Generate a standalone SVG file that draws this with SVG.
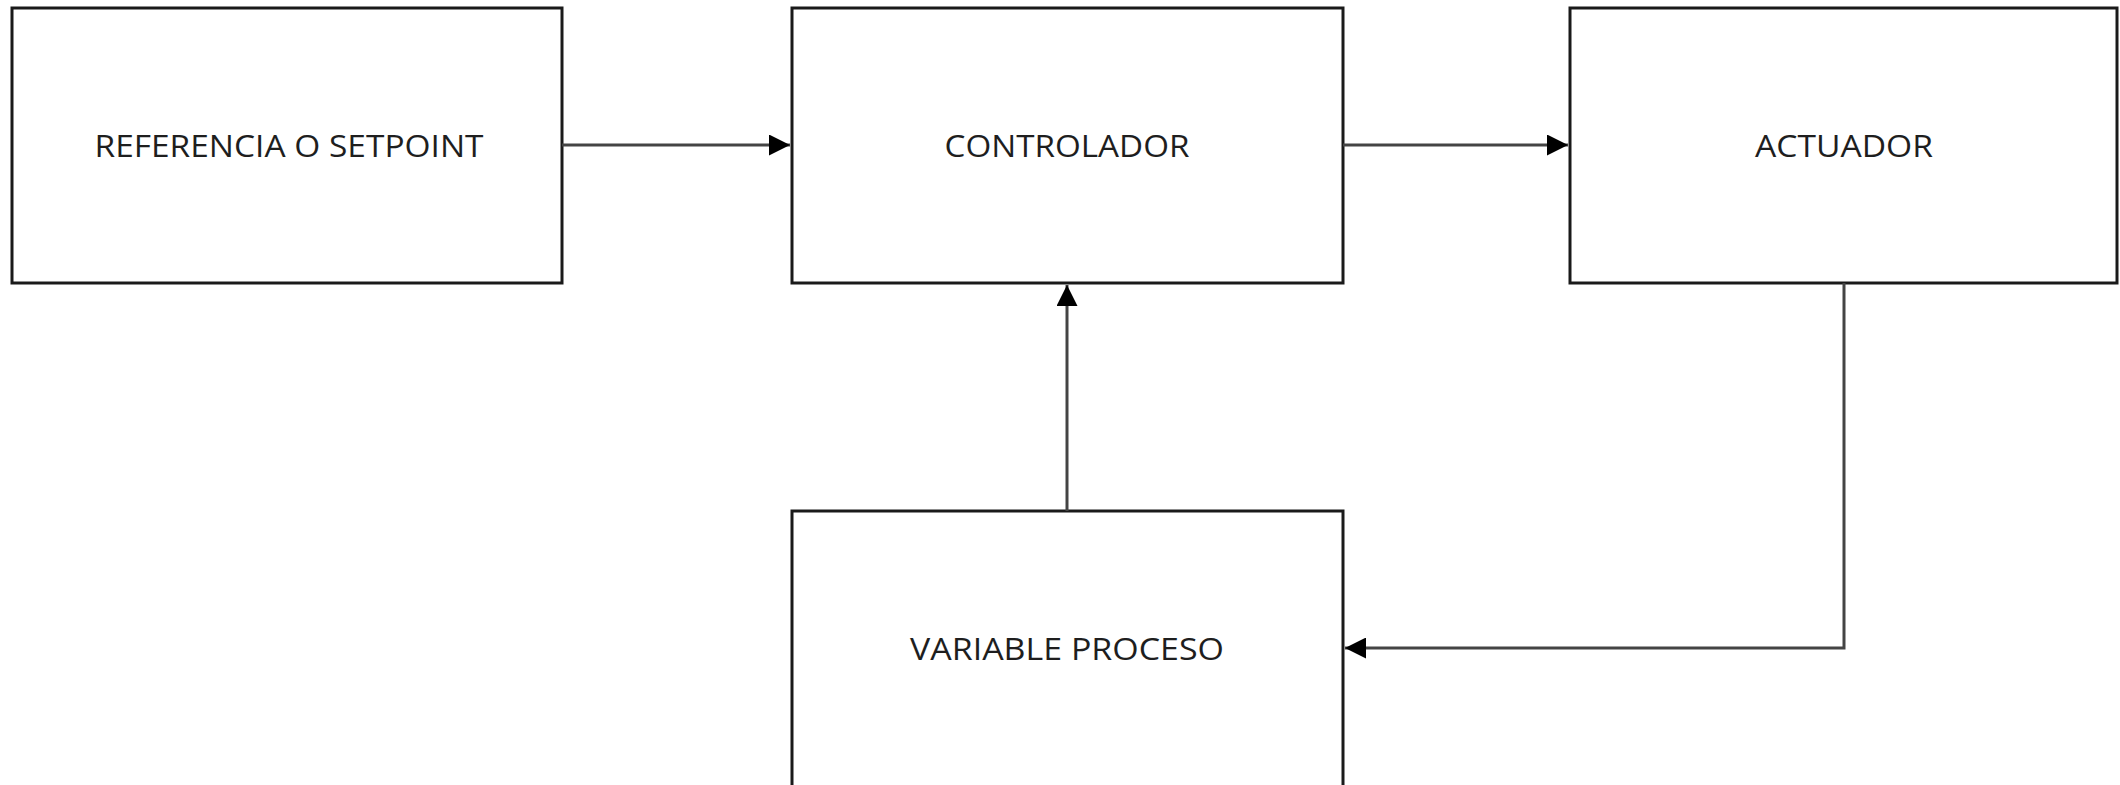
<svg xmlns="http://www.w3.org/2000/svg" width="2120" height="785" viewBox="0 0 2120 785">
<style>
.box{fill:#fff;stroke:#1a1a1a;stroke-width:3}
.lbl{font-family:"Open Sans","Liberation Sans",sans-serif;font-size:31px;fill:#1e1e1e;text-anchor:middle}
.conn{fill:none;stroke:#444;stroke-width:3}
</style>
<defs>
<marker id="ah" viewBox="0 0 10 10" refX="10" refY="5" markerUnits="userSpaceOnUse" markerWidth="30" markerHeight="21" orient="auto">
<path d="M0,0 L10,5 L0,10 Z" fill="#000"/>
</marker>
</defs>
<rect width="2120" height="785" fill="#fff"/>
<g id="referencia">
<rect class="box" x="12" y="8" width="550" height="275"/>
<text class="lbl" x="289" y="157" textLength="389" lengthAdjust="spacingAndGlyphs">REFERENCIA O SETPOINT</text>
</g>
<g id="controlador">
<rect class="box" x="792" y="8" width="551" height="275"/>
<text class="lbl" x="1067" y="157" textLength="245" lengthAdjust="spacingAndGlyphs">CONTROLADOR</text>
</g>
<g id="actuador">
<rect class="box" x="1570" y="8" width="547" height="275"/>
<text class="lbl" x="1844" y="157" textLength="178" lengthAdjust="spacingAndGlyphs">ACTUADOR</text>
</g>
<g id="variable">
<rect class="box" x="792" y="511" width="551" height="276"/>
<text class="lbl" x="1067" y="660" textLength="314" lengthAdjust="spacingAndGlyphs">VARIABLE PROCESO</text>
</g>
<g id="connectors">
<line class="conn" x1="562" y1="145" x2="790" y2="145" marker-end="url(#ah)"/>
<line class="conn" x1="1343" y1="145" x2="1568" y2="145" marker-end="url(#ah)"/>
<line class="conn" x1="1067" y1="511" x2="1067" y2="285" marker-end="url(#ah)"/>
<polyline class="conn" points="1844,283 1844,648 1345,648" marker-end="url(#ah)"/>
</g>
</svg>
